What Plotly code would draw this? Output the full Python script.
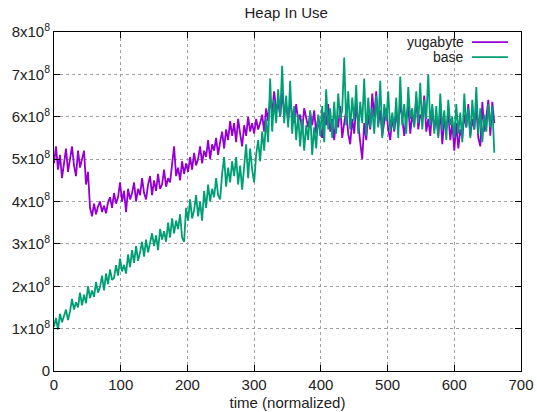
import plotly.graph_objects as go

# Sample index (normalized time), one sample every 3 units
time_norm = list(range(0, 661, 3))

# Heap in use, in units of 1e8 bytes
yugabyte_heap = [
    4.90, 5.30, 4.75, 5.10, 4.55, 4.95, 5.25, 4.70, 5.05, 5.30,
    4.85, 4.60, 5.20, 4.80, 5.00, 5.20, 4.40, 4.70, 3.85, 3.65,
    3.95, 3.70, 3.88, 4.00, 3.75, 3.90, 3.72, 3.98, 4.10, 3.85,
    4.20, 3.95, 4.10, 4.45, 4.00, 4.25, 3.75, 4.30, 4.05, 4.20,
    4.45, 4.00, 4.30, 4.15, 4.55, 4.20, 4.05, 4.40, 4.60, 4.15,
    4.50, 4.25, 4.65, 4.30, 4.40, 4.75, 4.35, 4.55, 4.45, 4.85,
    5.30, 4.60, 4.80, 4.50, 4.95, 4.65, 4.90, 4.70, 5.05, 4.75,
    5.15, 4.85, 5.00, 5.30, 4.90, 5.20, 5.05, 5.45, 5.00, 5.35,
    5.20, 5.50, 5.10, 5.40, 5.65, 5.25, 5.70, 5.45, 5.90, 5.55,
    5.85, 5.40, 5.95, 5.60, 5.30, 5.80, 5.55, 6.00, 5.65, 5.85,
    5.60, 5.95, 5.70, 5.85, 6.05, 5.65, 6.20, 5.90, 6.45, 6.10,
    6.60, 6.15, 6.35, 6.00, 6.55, 6.10, 6.25, 5.90, 6.40, 6.05,
    5.85, 6.30, 5.90, 6.05, 5.65, 6.20, 5.95, 5.75, 6.10, 5.80,
    6.15, 5.60, 6.00, 5.70, 5.50, 6.10, 5.80, 6.30, 5.65, 5.95,
    5.45, 6.00, 5.75, 6.25, 5.50, 5.85, 6.15, 5.60, 5.35, 5.95,
    5.60, 6.30, 5.75, 5.40, 5.00, 5.85, 5.45, 6.05, 5.70, 6.55,
    6.00, 6.60, 5.80, 6.15, 5.55, 5.95, 6.20, 5.70, 5.45, 6.00,
    5.65, 6.10, 5.75, 6.35, 5.90, 5.55, 6.00, 6.25, 5.60, 6.05,
    5.80, 6.45, 5.70, 6.05, 5.95, 6.50, 5.65, 5.95, 5.55, 6.20,
    5.70, 6.00, 5.55, 6.15, 5.35, 5.90, 5.70, 6.10, 5.45, 5.85,
    5.20, 5.85, 5.25, 5.70, 5.50, 6.05, 5.75, 6.30, 5.55, 5.95,
    5.70, 6.25, 5.50, 5.30, 6.35, 5.65, 6.00, 6.40, 5.55, 6.35,
    5.85,
]

base_heap = [
    1.05, 1.25, 0.98, 1.35, 1.15, 1.28, 1.45, 1.20, 1.40, 1.70,
    1.45, 1.62, 1.50, 1.85, 1.55, 1.80, 1.60, 2.00, 1.72, 1.90,
    1.75, 2.10, 1.85, 1.98, 2.25, 1.90, 2.30, 2.05, 2.40, 2.15,
    2.20, 2.50, 2.25, 2.65, 2.35, 2.50, 2.30, 2.75, 2.45, 2.85,
    2.55, 2.95, 2.60, 2.80, 3.05, 2.70, 3.10, 2.80, 3.00, 3.25,
    2.95, 3.20, 2.85, 3.35, 3.10, 3.30, 3.05, 3.50, 3.15, 3.60,
    3.25, 3.55, 3.35, 3.70, 3.15, 3.05, 3.85, 3.55, 4.05, 3.60,
    3.80, 4.15, 3.65, 4.00, 3.55, 4.25, 3.85, 4.40, 4.00, 4.30,
    4.10, 4.55, 4.15, 4.05, 4.65, 5.05, 4.35, 4.80, 4.45, 4.95,
    4.60, 5.05, 4.40, 4.85, 4.28, 4.75, 5.35, 4.55, 5.25, 4.75,
    4.45, 5.10, 5.45, 4.95, 5.65, 5.20, 5.95, 5.40, 6.90, 5.65,
    6.40, 5.85, 6.65, 6.00, 7.20, 5.85, 6.50, 5.75, 6.85, 5.60,
    6.25, 5.45, 6.05, 5.30, 5.95, 5.20, 5.80, 5.45, 6.15, 5.10,
    5.75, 5.25, 6.05, 5.55, 6.25, 5.40, 6.65, 5.70, 6.20, 5.50,
    6.35, 5.60, 6.55, 5.95, 6.15, 7.40, 5.80, 6.60, 5.70, 6.45,
    5.90, 6.75, 5.60, 6.35, 5.85, 6.90, 5.55, 6.45, 5.75, 6.20,
    5.60, 6.50, 5.75, 6.85, 5.50, 6.30, 5.90, 6.60, 5.65, 6.10,
    5.70, 6.45, 5.50, 6.95, 5.80, 6.30, 5.60, 6.70, 5.95, 6.20,
    5.75, 6.60, 5.85, 6.80, 5.70, 6.40, 5.95, 7.00, 5.80, 6.30,
    5.60, 6.25, 5.50, 6.55, 5.70, 6.15, 5.45, 6.40, 5.80, 6.00,
    5.50, 6.30, 5.60, 6.10, 5.40, 6.55, 5.75, 6.20, 5.50, 6.40,
    5.70, 6.70, 5.60, 6.20, 5.40, 6.05, 5.65, 6.30, 5.75, 6.25,
    5.15,
]

SCALE = 1e8
y_tick_vals = [0, 1, 2, 3, 4, 5, 6, 7, 8]
y_tick_text = ["0"] + [f"{v}x10<sup>8</sup>" for v in y_tick_vals[1:]]
x_tick_vals = [0, 100, 200, 300, 400, 500, 600, 700]

series_names = ["yugabyte", "base"]
series_colors = ["#9400d3", "#009e73"]

FONT = "Liberation Sans, Arial, sans-serif"
FSIZE = 15
KEY_FSIZE = 14
TXT = "#222222"

fig = go.Figure()
for name, vals, color in zip(series_names, [yugabyte_heap, base_heap], series_colors):
    fig.add_trace(go.Scatter(
        x=time_norm,
        y=[v * SCALE for v in vals],
        mode="lines",
        name=name,
        line=dict(color=color, width=1.8),
        hoverinfo="skip",
        showlegend=False,
    ))

axis_common = dict(
    showline=True,
    linecolor="#000000",
    linewidth=1,
    mirror="allticks",
    ticks="inside",
    ticklen=6,
    tickcolor="#000000",
    showgrid=True,
    gridcolor="#a0a0a0",
    griddash="dot",
    gridwidth=1,
    zeroline=False,
    automargin=False,
    tickfont=dict(family=FONT, size=FSIZE, color=TXT),
)

fig.update_layout(
    width=537,
    height=412,
    margin=dict(l=54, r=16, t=32, b=41),
    paper_bgcolor="white",
    plot_bgcolor="white",
    showlegend=False,
    font=dict(family=FONT, size=FSIZE, color=TXT),
    title=dict(text="Heap In Use", x=0.533, xanchor="center", y=0.968, yanchor="middle",
               font=dict(family=FONT, size=FSIZE, color=TXT)),
    xaxis=dict(
        range=[0, 700],
        tickvals=x_tick_vals,
        title=dict(text="time (normalized)", standoff=5,
                   font=dict(family=FONT, size=FSIZE, color=TXT)),
        **axis_common,
    ),
    yaxis=dict(
        range=[0, 8 * SCALE],
        tickvals=[v * SCALE for v in y_tick_vals],
        ticktext=y_tick_text,
        **axis_common,
    ),
)

# gnuplot-style key: right-aligned label followed by a line sample
key_rows_y = [0.970, 0.926]
for name, color, ky in zip(series_names, series_colors, key_rows_y):
    fig.add_annotation(
        xref="paper", yref="paper", x=0.882, y=ky,
        text=name, showarrow=False, xanchor="right", yanchor="middle",
        font=dict(family=FONT, size=KEY_FSIZE, color=TXT),
    )
    fig.add_shape(
        type="line", xref="paper", yref="paper",
        x0=0.895, x1=0.972, y0=ky, y1=ky,
        line=dict(color=color, width=1.8),
    )

fig.write_html("out.html", config={"displayModeBar": False})
